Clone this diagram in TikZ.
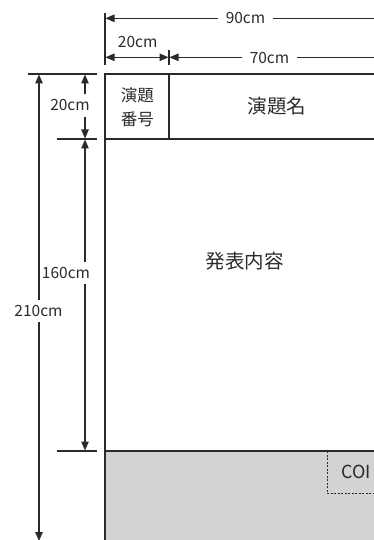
\documentclass[tikz,border=0pt]{standalone}
\usepackage{fontspec}
\setmainfont{Noto Sans CJK JP}
\usetikzlibrary{arrows.meta}
\definecolor{ink}{HTML}{2A2A2A}
\definecolor{greyfill}{HTML}{D3D3D4}
\tikzset{
  dimline/.style={draw=ink, line width=1.1pt},
  dimarrow/.style={dimline, -{Triangle[length=9pt,width=7.5pt]}},
  dimboth/.style={dimline, {Triangle[length=9pt,width=7.5pt]}-{Triangle[length=9pt,width=7.5pt]}},
  dimlabel/.style={text=ink, inner xsep=8pt, inner ysep=0pt, text height=10pt, text depth=0pt,
    minimum height=22pt, font=\fontsize{15.5}{15.5}\selectfont},
  boxline/.style={draw=ink, line width=1.4pt},
  biglabel/.style={text=ink, inner sep=0pt, font=\fontsize{19.5}{19.5}\selectfont},
  smalllabel/.style={text=ink, inner sep=0pt, align=center, font=\fontsize{16.5}{23.5}\selectfont},
  coilabel/.style={text=ink, inner sep=0pt, font=\fontsize{18}{18}\selectfont},
}
\begin{document}
\begin{tikzpicture}[x=1pt,y=-1pt]
\useasboundingbox (0,0) rectangle (374,540);
\clip (0,0) rectangle (374,540);
% coordinates
\coordinate (boxTL) at (105,74);
\coordinate (boxTR) at (400,74);
\coordinate (divT) at (169,74);
\coordinate (divB) at (169,139);
\coordinate (headL) at (105,139);
\coordinate (headR) at (400,139);
\coordinate (contL) at (105,451);
\coordinate (contR) at (400,451);
\coordinate (boxBL) at (105,560);
\coordinate (coiT) at (327,451);
\coordinate (coiB) at (327,493);
\coordinate (coiR) at (400,493);
% gray area
\fill[fill=greyfill] (contL) rectangle (400,560);
% poster frame
\draw[boxline] (boxTR) -- (boxTL) -- (boxBL);
\draw[boxline] (headL) -- (headR);
\draw[boxline] (divT) -- (divB);
\draw[boxline] (contL) -- (contR);
\draw[draw=ink, line width=1pt, dash pattern=on 2pt off 1.5pt] (coiT) -- (coiB) -- (coiR);
% texts in frame
\node[smalllabel] (num) at (137.4,107.3) {演題\\番号};
\node[biglabel] (title) at (277,106.5) {演題名};
\node[biglabel] (content) at (244.5,261) {発表内容};
\node[coilabel] (coi) at (356,472) {COI};
% top dimensions
\coordinate (tickA1) at (105,13);
\coordinate (tickA2) at (105,65);
\coordinate (tickB1) at (169,50);
\coordinate (tickB2) at (169,65);
\draw[dimline] (tickA1) -- (tickA2);
\draw[dimline] (tickB1) -- (tickB2);
\coordinate (w90L) at (105.5,18.3);
\coordinate (w90R) at (420,18.3);
\node[dimlabel] (l90) at (245.5,19) {90cm};
\draw[dimarrow] (l90.west |- w90L) -- (w90L);
\draw[dimarrow] (l90.east |- w90L) -- (w90R);
\coordinate (w20L) at (105.5,57.3);
\coordinate (w20R) at (168.5,57.3);
\draw[dimboth] (w20L) -- (w20R);
\node[dimlabel] (l20h) at (137.7,42.3) {20cm};
\coordinate (w70L) at (169.5,57.3);
\coordinate (w70R) at (420,57.3);
\node[dimlabel] (l70) at (269.5,58.5) {70cm};
\draw[dimarrow] (l70.west |- w70L) -- (w70L);
\draw[dimarrow] (l70.east |- w70L) -- (w70R);
% left extension lines
\coordinate (extA1) at (28,74);
\coordinate (extA2) at (97,74);
\coordinate (extB1) at (57,139);
\coordinate (extB2) at (97,139);
\coordinate (extC1) at (57,451);
\coordinate (extC2) at (97,451);
\draw[dimline] (extA1) -- (extA2);
\draw[dimline] (extB1) -- (extB2);
\draw[dimline] (extC1) -- (extC2);
% left dimensions
\coordinate (h20T) at (85,74.5);
\coordinate (h20B) at (85,138.5);
\node[dimlabel] (l20v) at (70,105.5) {20cm};
\draw[dimarrow] (l20v.north -| h20T) -- (h20T);
\draw[dimarrow] (l20v.south -| h20T) -- (h20B);
\coordinate (h160T) at (85,139.5);
\coordinate (h160B) at (85,450.5);
\node[dimlabel] (l160) at (66,273) {160cm};
\draw[dimarrow] (l160.north -| h160T) -- (h160T);
\draw[dimarrow] (l160.south -| h160T) -- (h160B);
\coordinate (h210T) at (39,74.5);
\coordinate (h210B) at (39,541);
\node[dimlabel] (l210) at (38.5,311) {210cm};
\draw[dimarrow] (l210.north -| h210T) -- (h210T);
\draw[dimarrow] (l210.south -| h210T) -- (h210B);
\end{tikzpicture}
\end{document}
